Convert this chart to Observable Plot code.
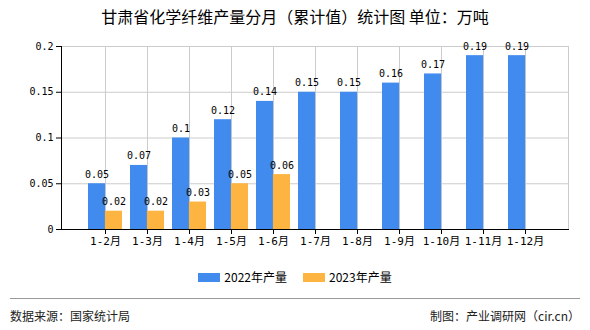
<!DOCTYPE html>
<html><head><meta charset="utf-8">
<script src="https://cdn.jsdelivr.net/npm/d3@7"></script>
<script src="https://cdn.jsdelivr.net/npm/@observablehq/plot@0.6"></script>
<style>
body{margin:0;background:#fff;font-family:"Noto Sans CJK SC",sans-serif;}
#wrap{position:relative;width:590px;height:330px;overflow:hidden;background:#fff;}
#title{position:absolute;top:6px;left:0;width:590px;text-align:center;font-size:16px;line-height:20px;color:#000;}
#chart{position:absolute;top:0;left:0;}
#legend{position:absolute;top:268px;left:0;width:590px;display:flex;justify-content:center;font-size:12px;line-height:18px;color:#000;}
.item{display:flex;align-items:center;margin:0 8px;}
.sw{width:22px;height:9px;margin-right:4px;}
#rule{position:absolute;top:298px;left:10px;width:570px;height:1px;background:#999;}
#src{position:absolute;top:307px;left:10px;font-size:12px;line-height:18px;color:#222;}
#by{position:absolute;top:307px;right:10px;font-size:12px;line-height:18px;color:#222;}
</style></head><body>
<div id="wrap">
  <div id="chart"></div>
  <div id="title">甘肃省化学纤维产量分月（累计值）统计图 单位：万吨</div>
  <div id="legend"></div>
  <div id="rule"></div>
  <div id="src">数据来源：国家统计局</div>
  <div id="by">制图：产业调研网（cir.cn）</div>
</div>
<script>
const categories = ["1-2月","1-3月","1-4月","1-5月","1-6月","1-7月","1-8月","1-9月","1-10月","1-11月","1-12月"];
const values2022 = [0.05,0.07,0.1,0.12,0.14,0.15,0.15,0.16,0.17,0.19,0.19];
const values2023 = [0.02,0.02,0.03,0.05,0.06];
const yTicks = [0,0.05,0.1,0.15,0.2];
const seriesNames = ["2022年产量","2023年产量"];
const colors = ["#418AEE","#FDB441"];

const d22 = values2022.map((v,i)=>({cat:categories[i], v}));
const d23 = values2023.map((v,i)=>({cat:categories[i], v}));

const W = 590, ML = 61, MR = 22;
const step = (W - ML - MR) / 12;
const bw = step * 0.8;
const numFont = "'DejaVu Sans Mono','Noto Sans CJK SC',monospace";

const chart = Plot.plot({
  width: W, height: 260,
  marginLeft: ML, marginRight: MR, marginTop: 46, marginBottom: 31,
  style: {fontFamily: numFont, fontSize: "10px", color: "#000", background: "transparent"},
  x: {domain: categories, paddingInner: 0.2, paddingOuter: 0.6, label: null},
  y: {domain: [0, 0.2], label: null},
  marks: [
    Plot.gridY(yTicks, {stroke: "#ccc", strokeOpacity: 1}),
    Plot.gridX({stroke: "#ccc", strokeOpacity: 1}),
    Plot.frame({stroke: "#ccc"}),
    Plot.barY(d22, {x: "cat", y: "v", fill: colors[0], insetRight: bw/2}),
    Plot.barY(d23, {x: "cat", y: "v", fill: colors[1], insetLeft: bw/2}),
    Plot.text(d22, {x: "cat", y: "v", text: d => String(d.v), dx: -bw/4, dy: -6, lineAnchor: "bottom", fontSize: 10, fill: "#000"}),
    Plot.text(d23, {x: "cat", y: "v", text: d => String(d.v), dx: bw/4, dy: -6, lineAnchor: "bottom", fontSize: 10, fill: "#000"}),
    Plot.frame({anchor: "left", stroke: "#000"}),
    Plot.frame({anchor: "bottom", stroke: "#000"}),
    Plot.axisY(yTicks, {tickFormat: d => String(d), tickSize: 5, tickPadding: 3, fontSize: 10, label: null}),
    Plot.axisX({tickSize: 5, tickPadding: 3, fontSize: 11, label: null})
  ]
});
document.getElementById("chart").appendChild(chart);

const lg = document.getElementById("legend");
seriesNames.forEach((n,i)=>{
  const it = document.createElement("div"); it.className="item";
  const sw = document.createElement("div"); sw.className="sw"; sw.style.background=colors[i];
  const t = document.createElement("span"); t.textContent=n;
  it.appendChild(sw); it.appendChild(t); lg.appendChild(it);
});
</script>
</body></html>
